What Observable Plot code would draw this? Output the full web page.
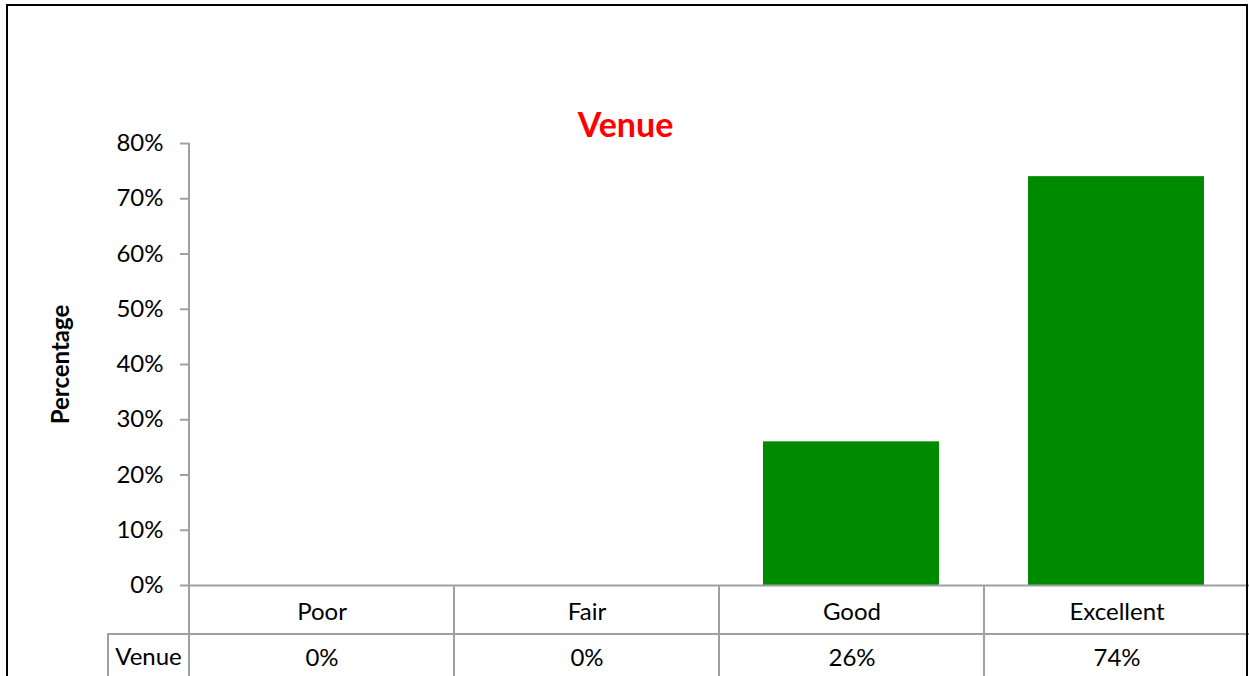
<!DOCTYPE html>
<html><head><meta charset="utf-8">
<script src="https://cdn.jsdelivr.net/npm/d3@7"></script>
<script src="https://cdn.jsdelivr.net/npm/@observablehq/plot@0.6"></script>
<style>
body{margin:0;background:#fff}
#wrap{position:relative;width:1249px;height:676px;overflow:hidden;background:#fff}
#border{position:absolute;left:6px;top:4px;width:1238px;height:760px;border:2px solid #000;pointer-events:none}
</style>
</head><body>
<div id="wrap"><div id="chart"></div><div id="border"></div></div>
<script>
// ---- data ----
const categories = ["Poor", "Fair", "Good", "Excellent"];
const values = [0, 0, 0.26, 0.74];
const seriesName = "Venue";
const titleText = "Venue";
const yLabel = "Percentage";
const yTicks = [0, 0.1, 0.2, 0.3, 0.4, 0.5, 0.6, 0.7, 0.8];

const data = categories.map((c, i) => ({category: c, value: values[i]}));
const pct = d3.format(".0%");

// ---- layout ----
const W = 1249, H = 676, ML = 189, MR = 0, MT = 143, MB = 91;
const GRAY = "#a0a0a0";
const FONT = "Lato, 'Open Sans', sans-serif";

const chart = Plot.plot({
  width: W, height: H,
  marginLeft: ML, marginRight: MR, marginTop: MT, marginBottom: MB,
  style: {fontFamily: FONT, fontSize: "24px", color: "#000", background: "white", overflow: "visible"},
  x: {domain: categories, padding: 0, axis: null},
  y: {domain: [0, 0.8], axis: null},
  marks: [
    Plot.barY(data, {x: "category", y: "value", fill: "#008a00", insetLeft: 44, insetRight: 45}),
    Plot.axisY(yTicks, {tickFormat: pct, tickSize: 9, tickPadding: 17, stroke: GRAY, strokeWidth: 2, fill: "#000", fontSize: 24, label: null}),
    Plot.ruleY([0], {stroke: GRAY, strokeWidth: 2}),
    Plot.text([titleText], {frameAnchor: "top", lineAnchor: "middle", textAnchor: "middle", dx: -94, dy: -17, fill: "#ff0000", fontWeight: "bold", fontSize: 34}),
    Plot.text([yLabel], {frameAnchor: "left", lineAnchor: "middle", textAnchor: "middle", rotate: -90, dx: -128, fontWeight: "bold", fontSize: 24}),
    Plot.text(data, {x: "category", text: "category", frameAnchor: "bottom", lineAnchor: "middle", textAnchor: "middle", dy: 27, fontSize: 24}),
    Plot.text(data, {x: "category", text: d => pct(d.value), frameAnchor: "bottom", lineAnchor: "middle", textAnchor: "middle", dy: 73, fontSize: 24}),
    Plot.text([seriesName], {frameAnchor: "bottom-left", lineAnchor: "middle", textAnchor: "middle", dx: -41, dy: 72, fontSize: 24})
  ]
});
document.getElementById("chart").append(chart);

// ---- data table grid lines, placed with Plot's own scales ----
const sx = chart.scale("x");
const sy = chart.scale("y");
const step = sx.step || (sx.range[1] - sx.range[0]) / sx.domain.length;
const x0 = sx.range[0];
const yBase = sy.apply(0);
const rowH = 49;
const svg = d3.select(chart);
const g = svg.append("g").attr("stroke", GRAY).attr("stroke-width", 2);
// left axis line through the table
g.append("line").attr("x1", x0).attr("x2", x0).attr("y1", MT).attr("y2", H);
// category boundaries
categories.forEach((c, i) => {
  if (i === 0) return;
  const xx = x0 + i * step;
  g.append("line").attr("x1", xx).attr("x2", xx).attr("y1", yBase).attr("y2", H);
});
// row separator
g.append("line").attr("x1", 107).attr("x2", W).attr("y1", yBase + rowH).attr("y2", yBase + rowH);
// series-label cell left edge
g.append("line").attr("x1", 108).attr("x2", 108).attr("y1", yBase + rowH).attr("y2", H);
</script>
</body></html>
